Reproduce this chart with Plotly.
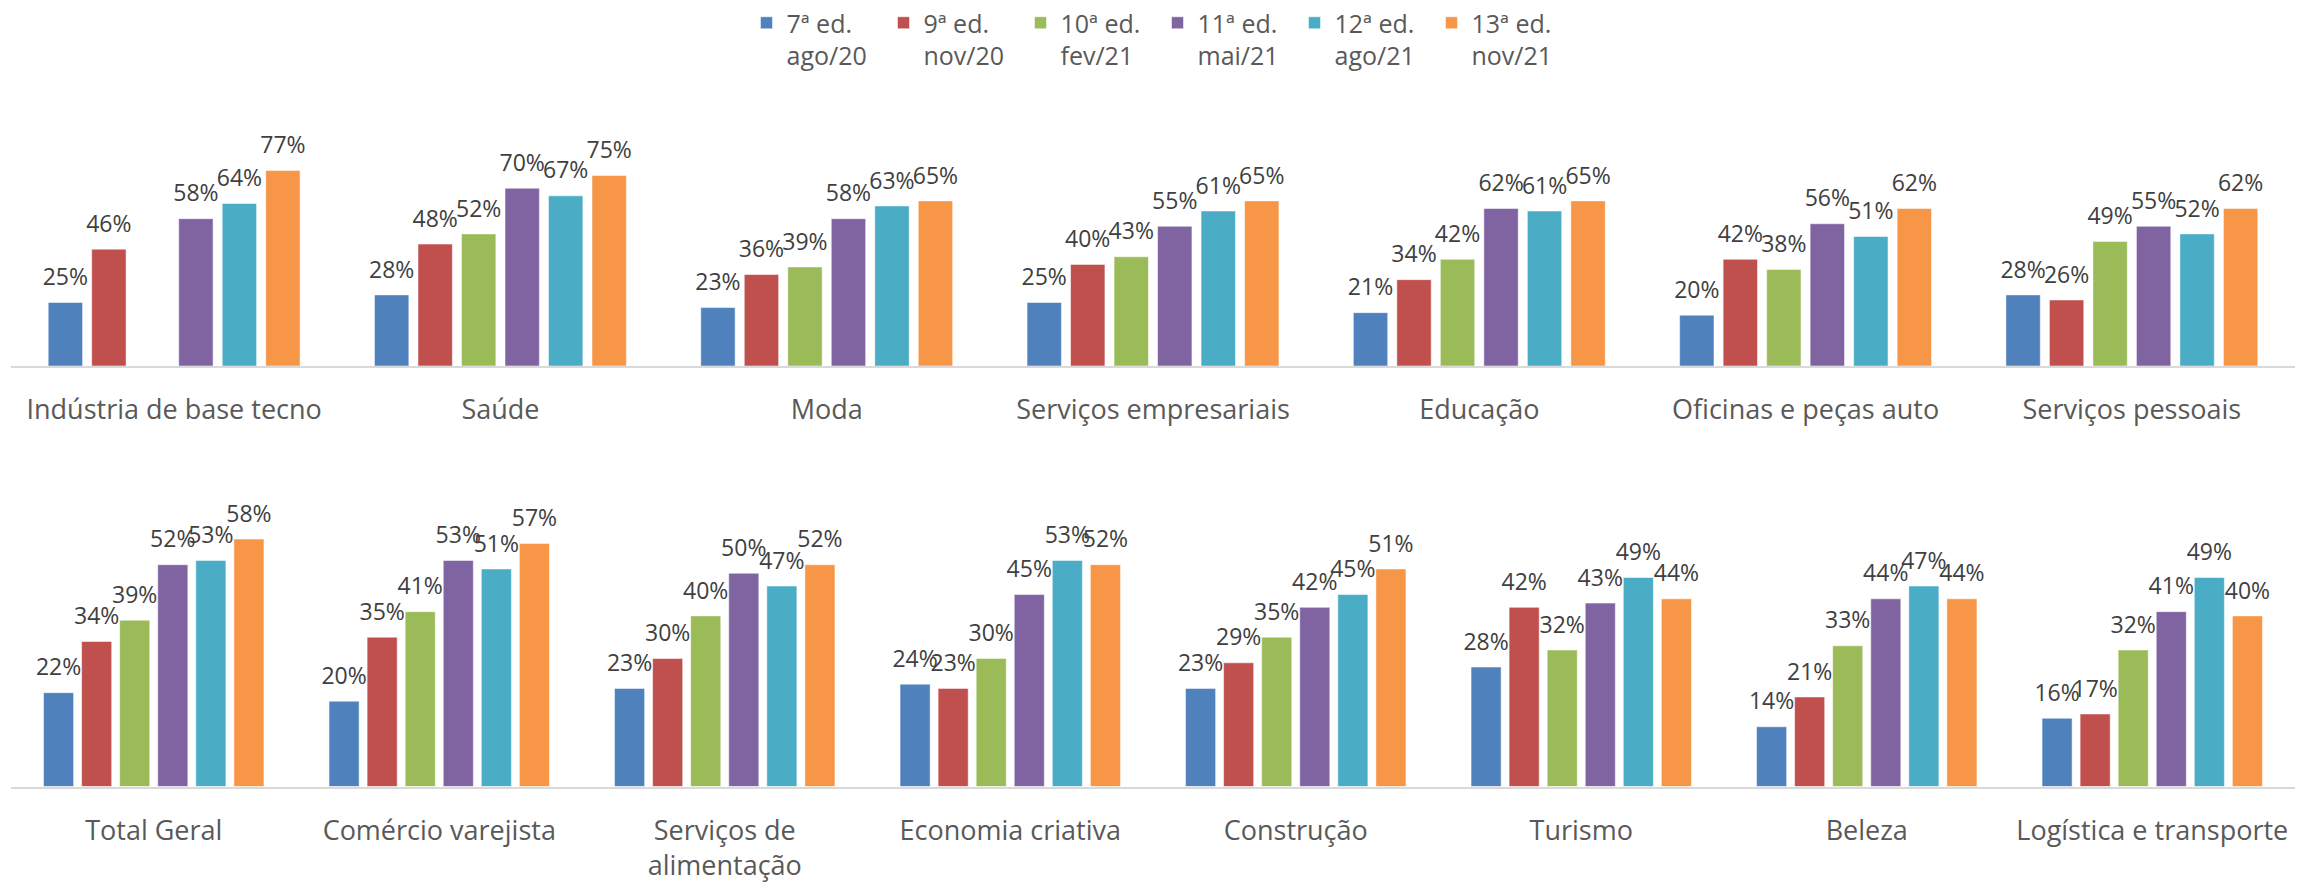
import plotly.graph_objects as go

# ---- data ----
series_names = ["7ª ed.<br>ago/20", "9ª ed.<br>nov/20", "10ª ed.<br>fev/21",
                "11ª ed.<br>mai/21", "12ª ed.<br>ago/21", "13ª ed.<br>nov/21"]
series_colors = ["#4F81BD", "#C0504D", "#9BBB59", "#8064A2", "#4BACC6", "#F79646"]

top_categories = ["Indústria de base tecno", "Saúde", "Moda", "Serviços empresariais",
                  "Educação", "Oficinas e peças auto", "Serviços pessoais"]
top_ed7 = [25, 28, 23, 25, 21, 20, 28]
top_ed9 = [46, 48, 36, 40, 34, 42, 26]
top_ed10 = [None, 52, 39, 43, 42, 38, 49]
top_ed11 = [58, 70, 58, 55, 62, 56, 55]
top_ed12 = [64, 67, 63, 61, 61, 51, 52]
top_ed13 = [77, 75, 65, 65, 65, 62, 62]

bottom_categories = ["Total Geral", "Comércio varejista", "Serviços de<br>alimentação",
                     "Economia criativa", "Construção", "Turismo", "Beleza",
                     "Logística e transporte"]
bot_ed7 = [22, 20, 23, 24, 23, 28, 14, 16]
bot_ed9 = [34, 35, 30, 23, 29, 42, 21, 17]
bot_ed10 = [39, 41, 40, 30, 35, 32, 33, 32]
bot_ed11 = [52, 53, 50, 45, 42, 43, 44, 41]
bot_ed12 = [53, 51, 47, 53, 45, 49, 47, 49]
bot_ed13 = [58, 57, 52, 52, 51, 44, 44, 40]

top_series = [top_ed7, top_ed9, top_ed10, top_ed11, top_ed12, top_ed13]
bot_series = [bot_ed7, bot_ed9, bot_ed10, bot_ed11, bot_ed12, bot_ed13]

FONT = "Open Sans"
W, H = 2315, 883
GAP = 0.2

fig = go.Figure()
for i, name in enumerate(series_names):
    for cats, vals, xa, ya, leg in [(top_categories, top_series[i], "x", "y", True),
                                    (bottom_categories, bot_series[i], "x2", "y2", False)]:
        fig.add_trace(go.Bar(
            x=cats, y=vals, xaxis=xa, yaxis=ya, name=name,
            marker=dict(color=series_colors[i],
                        line=dict(color="rgba(255,255,255,0.5)", width=1)),
            offsetgroup=str(i), legendgroup=str(i), showlegend=leg,
            hoverinfo="skip",
        ))
        # data labels placed via grouped scatter text, sharing the bar's slot
        fig.add_trace(go.Scatter(
            x=cats, y=vals, xaxis=xa, yaxis=ya, name=name,
            mode="markers+text",
            marker=dict(size=17, opacity=0, color=series_colors[i]),
            text=[("%d%%" % v) if v is not None else "" for v in vals],
            textposition="top center",
            textfont=dict(family=FONT, size=23, color="#404040"),
            offsetgroup=str(i), legendgroup=str(i), showlegend=False,
            cliponaxis=False, hoverinfo="skip",
        ))

x_dom = [11 / W, 2295 / W]
top_base = (H - 366) / H
top_top = (H - (366 - 100 * 2.54)) / H
bot_base = (H - 786.5) / H
bot_top = (H - (786.5 - 65 * 4.265)) / H

axis_common = dict(
    showline=True, linecolor="#D9D9D9", linewidth=2,
    showgrid=False, zeroline=False, ticks="",
    tickfont=dict(family=FONT, size=27, color="#595959"),
    ticklabelstandoff=19,
    automargin=False,
    fixedrange=True,
)

fig.update_layout(
    width=W, height=H,
    margin=dict(l=0, r=0, t=0, b=0, autoexpand=False),
    paper_bgcolor="white", plot_bgcolor="white",
    barmode="group", bargap=GAP, bargroupgap=0.21,
    scattermode="group", scattergap=GAP,
    font=dict(family=FONT, color="#595959"),
    xaxis=dict(domain=x_dom, anchor="y", **axis_common),
    yaxis=dict(domain=[top_base, top_top], range=[0, 100], visible=False, anchor="x"),
    xaxis2=dict(domain=x_dom, anchor="y2", **axis_common),
    yaxis2=dict(domain=[bot_base, bot_top], range=[0, 65], visible=False, anchor="x2"),
    legend=dict(
        orientation="h", x=0.5, xanchor="center", y=1.0, yanchor="top",
        font=dict(family=FONT, size=25, color="#595959"),
        entrywidth=92, entrywidthmode="pixels", valign="top",
        itemclick=False, itemdoubleclick=False, traceorder="normal",
    ),
    showlegend=True,
)

fig.write_html("out.html", config={"displayModeBar": False},
               post_script="document.body.style.margin='0px';")
